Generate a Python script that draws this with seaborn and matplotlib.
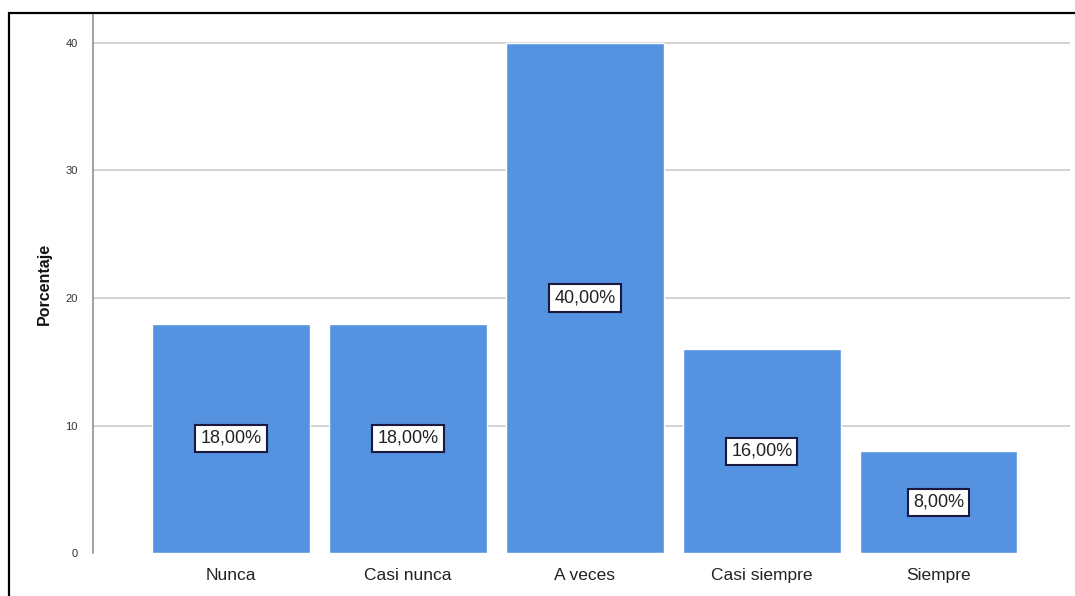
import matplotlib
matplotlib.use("Agg")
import matplotlib.pyplot as plt
from matplotlib.patches import Rectangle
import pandas as pd
import seaborn as sns

CATEGORIES = ["Nunca", "Casi nunca", "A veces", "Casi siempre", "Siempre"]
PERCENTS = [18.0, 18.0, 40.0, 16.0, 8.0]
Y_TICKS = [0, 10, 20, 30, 40]

BAR_COLOR = "#5592E0"

sns.set_theme(style="white")
plt.rcParams["font.family"] = ["Liberation Sans", "DejaVu Sans"]

df = pd.DataFrame({"categoria": CATEGORIES, "porcentaje": PERCENTS})

fig = plt.figure(figsize=(10.75, 5.96), dpi=100)
ax = fig.add_axes([0.0865, 0.072, 0.9085, 0.903])

sns.barplot(data=df, x="categoria", y="porcentaje", color=BAR_COLOR,
            saturation=1, width=0.89, ax=ax, zorder=3)

ax.set_xlim(-0.78, 4.74)
ax.set_ylim(0, 42.2)
ax.set_yticks(Y_TICKS)
ax.set_yticklabels([str(t) for t in Y_TICKS], fontsize=8, color="#333333")
ax.tick_params(axis="y", length=3, color="#888888", pad=8)
ax.tick_params(axis="x", length=0, labelsize=12.5, labelcolor="#222222", pad=11)
for t in Y_TICKS[1:]:
    ax.axhline(t, color="#c8c8c8", lw=1.1, zorder=1)

for side in ["top", "right", "bottom"]:
    ax.spines[side].set_visible(False)
ax.spines["left"].set_color("#888888")
ax.spines["left"].set_linewidth(1.1)

ax.set_xlabel("")
ax.set_ylabel("Porcentaje", fontsize=11.5, fontweight="bold", color="#111111", labelpad=10)

for bar, v in zip(ax.patches, PERCENTS):
    cx = bar.get_x() + bar.get_width() / 2
    ax.text(cx, v / 2, f"{v:.2f}%".replace(".", ","), ha="center", va="center",
            fontsize=13, color="#222222", zorder=5,
            bbox=dict(boxstyle="square,pad=0.28", fc="white", ec="#1a1a40", lw=1.5))

fig.patches.append(Rectangle((0.0088, -0.02), 1.2, 0.998, transform=fig.transFigure,
                             fill=False, ec="black", lw=1.6, zorder=10))

fig.savefig("out.png", dpi=100)
